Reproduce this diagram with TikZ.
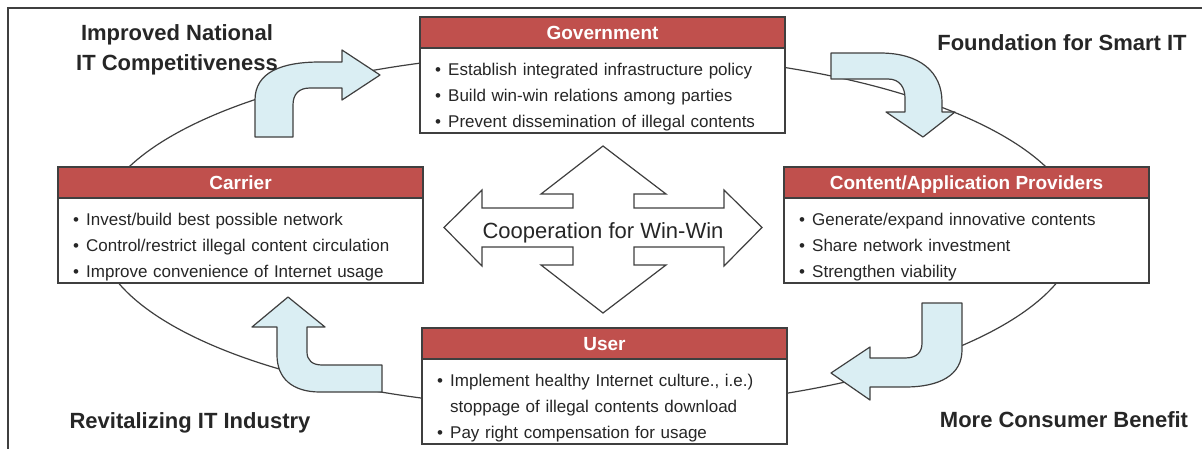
\documentclass[tikz,border=0pt]{standalone}
\usepackage{fontspec}
\setmainfont{Liberation Sans}
\usetikzlibrary{calc}
\definecolor{headred}{HTML}{C0504D}
\definecolor{edgegray}{HTML}{3F3F3F}
\definecolor{paleblue}{HTML}{DAEEF3}
\definecolor{inkgray}{HTML}{262626}

% wider word gaps in the bullet lines
\newcommand{\widegaps}{\spaceskip=5.6pt\relax}
% box with a red title bar and a white body below it
\newcommand{\playerbox}[4]{%
  \node[headbox, anchor=north west] (#1-head) at (#2,#3) {};
  \node[bodybox, anchor=north west] (#1) at (#1-head.south west) {};
  \node[headtext] (#1-title) at (#1-head.center) {#4};
}
% bulleted line, #3 = baseline offset below the title bar
\newcommand{\itemline}[4]{%
  \node[itemtext] (#1) at ([xshift=15pt,yshift=-#3pt]#2-head.south west) {\widegaps\makebox[13pt][l]{\textbullet}#4};
}
% continuation line aligned with the bulleted text
\newcommand{\contline}[4]{%
  \node[itemtext] (#1) at ([xshift=28pt,yshift=-#3pt]#2-head.south west) {\widegaps #4};
}

\begin{document}
\begin{tikzpicture}[x=1pt,y=-1pt,
  headbox/.style={draw=edgegray, line width=1.2pt, fill=headred, minimum width=365pt, minimum height=31pt, inner sep=0pt, outer sep=0pt},
  bodybox/.style={draw=edgegray, line width=1.2pt, fill=white, minimum width=365pt, minimum height=85pt, inner sep=0pt, outer sep=0pt},
  headtext/.style={text=white, font=\fontsize{19}{22}\selectfont\bfseries, inner sep=0pt, text height=13.6pt, text depth=0pt},
  itemtext/.style={text=inkgray, font=\fontsize{17}{20}\selectfont, inner sep=0pt, anchor=base west},
  caption/.style={text=inkgray, font=\fontsize{22}{24}\selectfont\bfseries, inner sep=0pt, anchor=base},
  turnarrow/.style={draw=edgegray, line width=1.2pt, fill=paleblue, line join=round},
  coopshape/.style={draw=edgegray, line width=1.2pt, fill=white, line join=miter},
  ring/.style={draw=edgegray, line width=1.2pt},
]
\path[use as bounding box] (0,0) rectangle (1202,448);
\clip (0,0) rectangle (1202,448);

% outer frame
\draw[line width=2pt, draw=edgegray] (8,8) rectangle (1220,470);

% cycle ellipse behind everything
\draw[ring] (587.5,230.5) ellipse [x radius=490.7pt, y radius=178pt];

% curved arrows around the cycle
\draw[turnarrow] (255,137) -- (255,100) .. controls (255,72) and (282,62) .. (320,62)
  -- (342,62) -- (342,50) -- (380,75) -- (342,100) -- (342,88) -- (310,88)
  .. controls (299,88) and (293,94) .. (293,105) -- (293,137) -- cycle;
\draw[turnarrow] (831,53) -- (880,53) .. controls (920,53) and (942,72) .. (942,102)
  -- (942,112) -- (955,112) -- (923,137) -- (886,112) -- (905,112) -- (905,98)
  .. controls (905,88) and (900,79) .. (888,79) -- (831,79) -- cycle;
\draw[turnarrow] (922,303) -- (962,303) -- (962,350) .. controls (962,375) and (940,387) .. (905,387)
  -- (870,387) -- (870,400) -- (831,373) -- (870,347) -- (870,358) -- (905,358)
  .. controls (917,358) and (922,352) .. (922,343) -- cycle;
\draw[turnarrow] (382,365) -- (382,392) -- (320,392) .. controls (292,392) and (277,378) .. (277,355)
  -- (277,327) -- (252,327) -- (288,297) -- (325,327) -- (307,327) -- (307,352)
  .. controls (307,360) and (312,365) .. (322,365) -- cycle;

% four-way cooperation arrow
\draw[coopshape] (603,146) -- (666,194) -- (634,194) -- (634,208) -- (724,208) -- (724,190)
  -- (762,227.5) -- (724,266) -- (724,247) -- (634,247) -- (634,265) -- (666,265)
  -- (603,313) -- (541,265) -- (573,265) -- (573,247) -- (482,247) -- (482,266)
  -- (444,227.5) -- (482,190) -- (482,208) -- (573,208) -- (573,194) -- (541,194) -- cycle;
\node[inner sep=0pt, anchor=base, font=\fontsize{22}{24}\selectfont, text=inkgray] (coop) at (603,238) {Cooperation for Win-Win};

% the four parties
\playerbox{gov}{420}{17}{Government}
\itemline{gov-a}{gov}{27}{Establish integrated infrastructure policy}
\itemline{gov-b}{gov}{53}{Build win-win relations among parties}
\itemline{gov-c}{gov}{79}{Prevent dissemination of illegal contents}

\playerbox{car}{58}{167}{Carrier}
\itemline{car-a}{car}{27}{Invest/build best possible network}
\itemline{car-b}{car}{53}{Control/restrict illegal content circulation}
\itemline{car-c}{car}{79}{Improve convenience of Internet usage}

\playerbox{cap}{784}{167}{Content/Application Providers}
\itemline{cap-a}{cap}{27}{Generate/expand innovative contents}
\itemline{cap-b}{cap}{53}{Share network investment}
\itemline{cap-c}{cap}{79}{Strengthen viability}

\playerbox{usr}{422}{328}{User}
\itemline{usr-a}{usr}{27}{Implement healthy Internet culture., i.e.)}
\contline{usr-b}{usr}{53}{stoppage of illegal contents download}
\itemline{usr-c}{usr}{79}{Pay right compensation for usage}

% outcome captions
\node[caption] (out-nat1) at (177,40) {Improved National};
\node[caption] (out-nat2) at (177,70) {IT Competitiveness};
\node[caption] (out-smart) at (1062,50) {Foundation for Smart IT};
\node[caption] (out-ind) at (190,428) {Revitalizing IT Industry};
\node[caption] (out-cons) at (1064,427) {More Consumer Benefit};
\end{tikzpicture}
\end{document}
